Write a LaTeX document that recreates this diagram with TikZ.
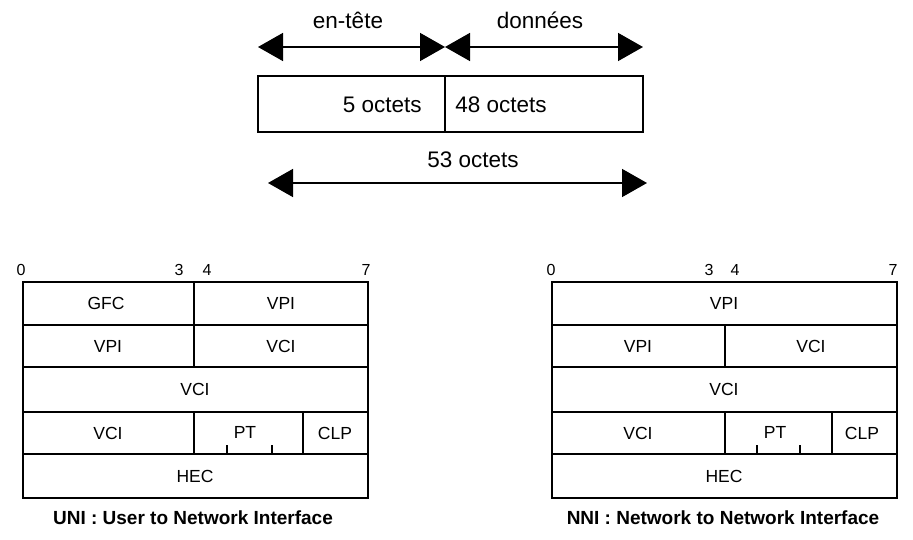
\documentclass[tikz,border=0pt]{standalone}
\usepackage{fontspec}
\setmainfont{Liberation Sans}
\usetikzlibrary{arrows.meta}
\tikzset{every picture/.style={line width=1.2pt}}

\begin{document}
\begin{tikzpicture}[x=1pt,y=1pt,yscale=-1,xscale=1,
  span/.style={{Triangle[length=25pt,width=28pt]}-{Triangle[length=25pt,width=28pt]},line width=1.6pt},
  toplbl/.style={inner sep=0.75pt,font=\fontsize{22.5}{26}\selectfont},
  cell/.style={inner sep=0.75pt,font=\fontsize{17.5}{20}\selectfont},
  bit/.style={inner sep=0.75pt,font=\fontsize{16}{19}\selectfont},
  legend/.style={inner sep=0.75pt,font=\bfseries\fontsize{19}{22}\selectfont}]
  \useasboundingbox (0,0) rectangle (913,540);

  % cellule : en-tete + donnees
  \coordinate (hdL) at (258,47);
  \coordinate (hdM) at (445,47);
  \coordinate (hdR) at (643,47);
  \coordinate (totL) at (268,183);
  \coordinate (totR) at (647,183);
  \draw (258,76) rectangle (643,132);
  \draw (445,76) -- (445,132);
  \draw [span] (hdL) -- (hdM);
  \draw [span] (hdM) -- (hdR);
  \draw [span] (totL) -- (totR);
  \node [toplbl] (entete) at (348,20) {en-tête};
  \node [toplbl] (donnees) at (540,20) {données};
  \node [toplbl,anchor=east] (cinq) at (423,105) {5 octets};
  \node [toplbl,anchor=west] (quarante) at (454,105) {48 octets};
  \node [toplbl] (total) at (473,160) {53 octets};

  % UNI
  \draw (23,282) rectangle (368,498);
  \draw (23,325) -- (368,325) (23,367) -- (368,367) (23,412) -- (368,412) (23,454) -- (368,454);
  \draw (194,282) -- (194,367) (194,412) -- (194,454) (303,412) -- (303,454);
  \draw (227,445) -- (227,454) (272,445) -- (272,454);
  \node [bit] (uZero) at (21,270) {0};
  \node [bit] (uTrois) at (179,270) {3};
  \node [bit] (uQuatre) at (207,270) {4};
  \node [bit] (uSept) at (366,270) {7};
  \node [cell] (uGfc) at (106,303) {GFC};
  \node [cell] (uVpiA) at (281,303) {VPI};
  \node [cell] (uVpiB) at (108,346) {VPI};
  \node [cell] (uVciA) at (281,346) {VCI};
  \node [cell] (uVciB) at (195,389) {VCI};
  \node [cell] (uVciC) at (108,433) {VCI};
  \node [cell] (uPt) at (245,432) {PT};
  \node [cell] (uClp) at (335,433) {CLP};
  \node [cell] (uHec) at (195,476) {HEC};
  \node [legend] (uni) at (193,518) {UNI : User to Network Interface};

  % NNI
  \draw (552,282) rectangle (897,498);
  \draw (552,325) -- (897,325) (552,367) -- (897,367) (552,412) -- (897,412) (552,454) -- (897,454);
  \draw (725,325) -- (725,367) (725,412) -- (725,454) (832,412) -- (832,454);
  \draw (757,445) -- (757,454) (800,445) -- (800,454);
  \node [bit] (nZero) at (551,270) {0};
  \node [bit] (nTrois) at (709,270) {3};
  \node [bit] (nQuatre) at (735,270) {4};
  \node [bit] (nSept) at (893,270) {7};
  \node [cell] (nVpiA) at (724,303) {VPI};
  \node [cell] (nVpiB) at (638,346) {VPI};
  \node [cell] (nVciA) at (811,346) {VCI};
  \node [cell] (nVciB) at (724,389) {VCI};
  \node [cell] (nVciC) at (638,433) {VCI};
  \node [cell] (nPt) at (775,432) {PT};
  \node [cell] (nClp) at (862,433) {CLP};
  \node [cell] (nHec) at (724,476) {HEC};
  \node [legend] (nni) at (723,518) {NNI : Network to Network Interface};
\end{tikzpicture}
\end{document}
